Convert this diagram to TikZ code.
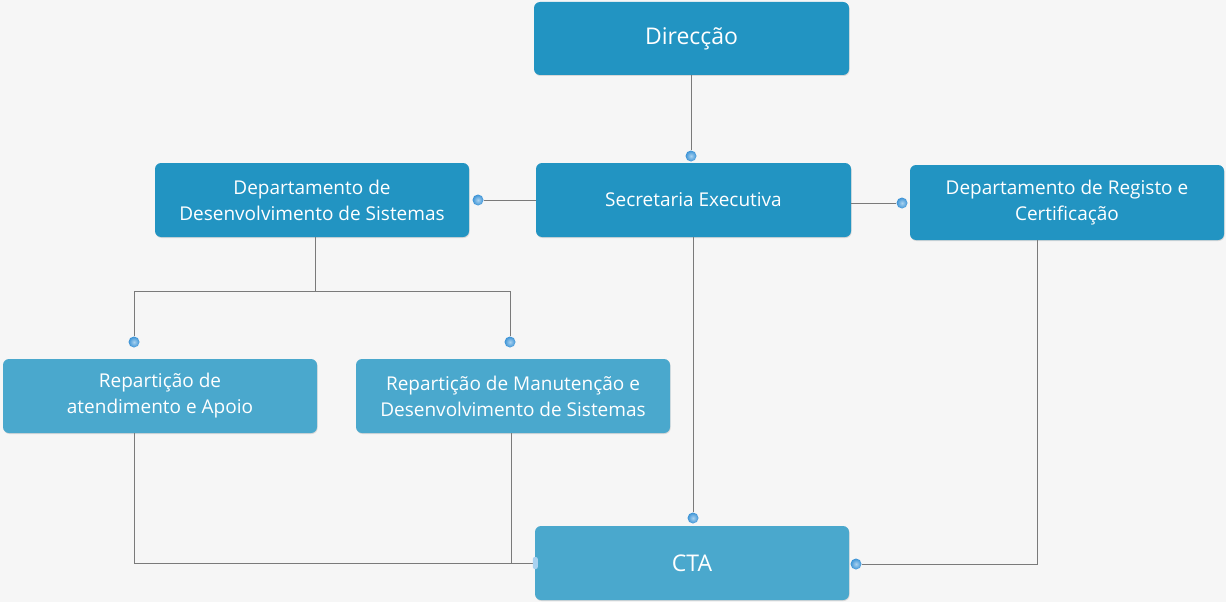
\documentclass[tikz,border=0pt]{standalone}
\usepackage{fontspec}
\setmainfont{Open Sans}
\usetikzlibrary{shadows}
\definecolor{bg}{HTML}{F6F6F6}
\definecolor{darkbox}{HTML}{2294C2}
\definecolor{lightbox}{HTML}{4AA8CD}
\definecolor{linec}{HTML}{7A7A7A}
\definecolor{dotc}{HTML}{3C93D6}
\definecolor{dotl}{HTML}{A9D2F0}
\begin{document}
\begin{tikzpicture}[x=1pt,y=-1pt,
  box/.style={rounded corners=6pt, minimum width=314pt, minimum height=74pt, text=white,
    align=center, inner sep=0pt, font=\fontsize{19}{26}\selectfont,
    drop shadow={shadow xshift=0.6pt, shadow yshift=-1pt, opacity=0.25}},
  dbox/.style={box, fill=darkbox},
  lbox/.style={box, fill=lightbox},
  conn/.style={draw=linec, line width=1pt},
  dot/.style={circle, inner sep=0pt, minimum size=11pt, draw=none,
    inner color=dotl, outer color=dotc}
]
\fill[bg] (0,0) rectangle (1226,602);
\useasboundingbox (0,0) rectangle (1226,602);

\node[dbox, minimum width=315pt, minimum height=73pt, font=\fontsize{23}{26}\selectfont] (dir) at (691.5,38.5) {\raisebox{-2pt}{Direcção}};
\node[dbox, minimum width=315pt] (sec) at (693.5,200) {Secretaria Executiva};
\node[dbox] (dds) at (312,200) {Departamento de\\Desenvolvimento de Sistemas};
\node[dbox, minimum height=75pt] (drc) at (1067,202.5) {Departamento de Registo e\\Certificação};
\node[lbox] (rat) at (160,396) {Repartição de\\atendimento e Apoio};
\node[lbox] (rmd) at (513,396) {Repartição de Manutenção e\\Desenvolvimento de Sistemas};
\node[lbox, font=\fontsize{23}{26}\selectfont] (cta) at (692,563) {CTA};

% dots
\node[dot] (d1) at (691,156) {};
\node[dot] (d2) at (478,200) {};
\node[dot] (d3) at (902,203) {};
\node[dot] (d4) at (134,342) {};
\node[dot] (d5) at (510,342) {};
\node[dot] (d6) at (693,518) {};
\node[dot] (d7) at (856,564) {};

\coordinate (j1) at (315,291);
\coordinate (j2) at (134,563);
\coordinate (j3) at (511,563);
\coordinate (j4) at (1037,564);

\draw[conn] (dir.south -| d1) -- (d1);
\draw[conn] (sec.west |- d2) -- (d2);
\draw[conn] (sec.east |- d3) -- (d3);
\draw[conn] (dds.south -| j1) -- (j1) -| (d4);
\draw[conn] (j1) -| (d5);
\draw[conn] (sec.south -| d6) -- (d6);
\draw[conn] (rat.south -| j2) -- (j2) -- (cta.west |- j2);
\draw[conn] (rmd.south -| j3) -- (j3);
\draw[conn] (drc.south -| j4) -- (j4) -- (d7);
\fill[dotl, rounded corners=2pt] ([xshift=-2pt,yshift=-6pt]cta.west) rectangle ([xshift=3pt,yshift=6pt]cta.west);
\end{tikzpicture}
\end{document}
